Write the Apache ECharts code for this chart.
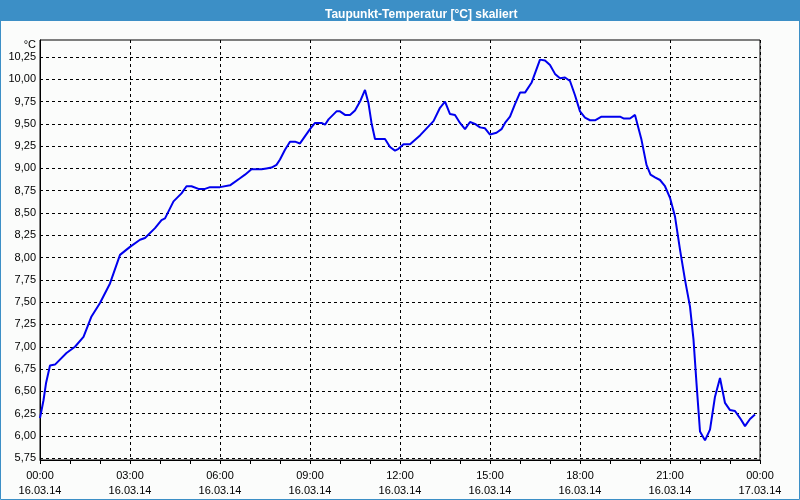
<!DOCTYPE html>
<html>
<head>
<meta charset="utf-8">
<script src="https://cdn.jsdelivr.net/npm/echarts@6/dist/echarts.min.js"></script>
<style>
html,body{margin:0;padding:0;background:#fbfcfb;}
#c{width:800px;height:500px;}
</style>
</head>
<body>
<div id="c"></div>
<script>
// Time of day (HH:MM) on 16.03.14
const times = [
  "00:00","00:07","00:12","00:20","00:30","00:53","01:10","01:27","01:43","02:00",
  "02:20","02:40","03:00","03:20","03:30","03:50","04:03","04:10","04:27","04:43",
  "04:53","05:03","05:17","05:30","05:40","06:00","06:20","06:40","06:50","07:03",
  "07:23","07:33","07:43","07:53","08:00","08:10","08:20","08:30","08:40","09:00",
  "09:10","09:23","09:30","09:37","09:53","10:00","10:10","10:20","10:30","10:40",
  "10:50","10:57","11:03","11:10","11:30","11:40","11:50","11:57","12:07","12:20",
  "12:40","13:07","13:20","13:30","13:40","13:50","14:00","14:10","14:20","14:30",
  "14:40","14:50","15:00","15:13","15:23","15:30","15:40","15:50","16:00","16:10",
  "16:23","16:40","16:50","17:00","17:10","17:20","17:30","17:40","17:50","18:00",
  "18:10","18:20","18:30","18:43","18:53","19:20","19:27","19:40","19:50","19:53",
  "20:03","20:13","20:21","20:30","20:40","20:50","21:00","21:10","21:20","21:30",
  "21:40","21:47","21:53","22:00","22:10","22:20","22:30","22:40","22:50","23:00",
  "23:10","23:20","23:30","23:40","23:50"];
// Dew point temperature in °C
const dewPoint = [
  6.20,6.40,6.59,6.79,6.80,6.93,7.00,7.11,7.34,7.49,
  7.71,8.03,8.12,8.20,8.22,8.33,8.42,8.44,8.63,8.72,
  8.80,8.80,8.77,8.77,8.79,8.79,8.81,8.89,8.93,8.99,
  8.99,9.00,9.01,9.04,9.10,9.21,9.30,9.30,9.28,9.44,
  9.51,9.51,9.49,9.55,9.64,9.64,9.60,9.60,9.65,9.75,
  9.88,9.73,9.51,9.33,9.33,9.24,9.20,9.22,9.27,9.27,
  9.37,9.53,9.68,9.75,9.61,9.60,9.51,9.44,9.52,9.50,
  9.46,9.45,9.38,9.40,9.44,9.51,9.58,9.72,9.85,9.85,
  9.96,10.22,10.21,10.16,10.06,10.01,10.02,9.98,9.82,9.64,
  9.57,9.54,9.54,9.58,9.58,9.58,9.56,9.56,9.60,9.58,
  9.32,9.04,8.93,8.90,8.87,8.80,8.67,8.46,8.09,7.75,
  7.45,7.08,6.59,6.05,5.95,6.07,6.44,6.65,6.37,6.29,
  6.28,6.20,6.11,6.19,6.24];
const yTicks = [5.75,6.00,6.25,6.50,6.75,7.00,7.25,7.50,7.75,8.00,8.25,8.50,8.75,9.00,9.25,9.50,9.75,10.00,10.25];
const yMin = 5.73, yMax = 10.44;
const xMaxMinutes = 1440;
const dayLabels = ["16.03.14","17.03.14"];
const title = "Taupunkt-Temperatur [°C] skaliert";
const unit = "°C";

function toMin(s){ const p = s.split(':'); return (+p[0])*60 + (+p[1]); }
const n = Math.min(times.length, dewPoint.length);
const seriesData = [];
for (let i=0;i<n;i++) seriesData.push([toMin(times[i]), dewPoint[i]]);

const chart = echarts.init(document.getElementById('c'), null, {renderer:'canvas'});
const font = '"Liberation Sans", Arial, sans-serif';
chart.setOption({
  backgroundColor: '#fbfcfb',
  animation: false,
  title: {
    text: title,
    left: 320, top: 3,
    textStyle: {color:'#ffffff', fontFamily: font, fontWeight:'bold', fontSize:12, lineHeight:14}
  },
  graphic: [
    {type:'rect', z:-1, shape:{x:0,y:0,width:800,height:21}, style:{fill:'#3c8fc6'}},
    {type:'rect', z:-1, shape:{x:0.5,y:0.5,width:799,height:499}, style:{fill:null, stroke:'#3c8fc6', lineWidth:1}}
  ],
  grid: {left:40, right:40, top:40, bottom:40, show:true, borderColor:'#000', borderWidth:1, backgroundColor:'transparent'},
  xAxis: {
    type:'value', min:0, max:xMaxMinutes, interval:180,
    axisLine:{show:true, lineStyle:{color:'#000', width:1}},
    axisTick:{show:true, length:4, lineStyle:{color:'#000'}},
    minorTick:{show:true, splitNumber:3, length:4, lineStyle:{color:'#000'}},
    splitLine:{show:true, lineStyle:{color:'#000', type:[3,3], width:1}},
    axisLabel:{
      color:'#000', fontFamily:font, fontSize:11, lineHeight:15, margin:8,
      showMinLabel:true, showMaxLabel:true, hideOverlap:false,
      formatter: function(v){
        const h = Math.floor(v/60)%24, m = v%60;
        const hh = (h<10?'0':'')+h, mm=(m<10?'0':'')+m;
        const d = v>=1440 ? dayLabels[1] : dayLabels[0];
        return hh+':'+mm+'\n'+d;
      }
    }
  },
  yAxis: {
    type:'value', min:yMin, max:yMax,
    name: unit, nameLocation:'end', nameGap:-5,
    nameTextStyle:{color:'#000', fontFamily:font, fontSize:11, align:'right', verticalAlign:'middle', padding:[0,4,0,0]},
    axisLine:{show:true, lineStyle:{color:'#000', width:1}},
    axisTick:{show:false, customValues:yTicks},
    splitLine:{show:true, lineStyle:{color:'#000', type:[3,3], width:1}},
    axisLabel:{
      customValues:yTicks, color:'#000', fontFamily:font, fontSize:11, margin:4,
      formatter: function(v){ return v.toFixed(2).replace('.', ','); }
    }
  },
  series: [{
    type:'line', data:seriesData, showSymbol:false, smooth:false,
    lineStyle:{color:'#0000ee', width:2}, clip:true
  }]
});
</script>
</body>
</html>
